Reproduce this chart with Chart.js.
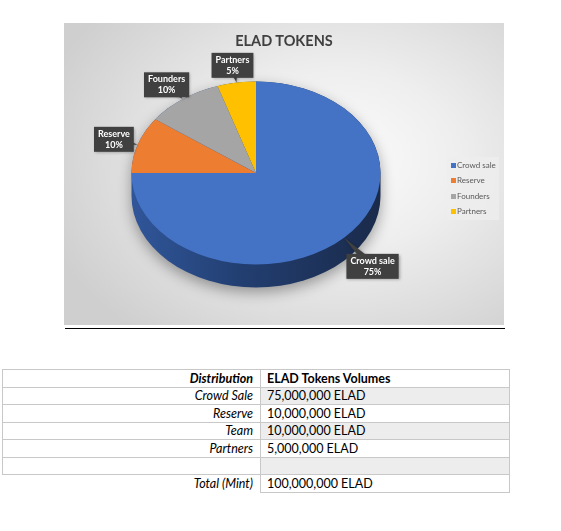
<!DOCTYPE html>
<html>
<head>
<meta charset="utf-8">
<script src="https://cdn.jsdelivr.net/npm/chart.js@4/dist/chart.umd.min.js"></script>
<style>
  body { margin: 0; background: #fff; font-family: Lato, "Open Sans", sans-serif; }
  #chartBox {
    position: absolute; left: 64px; top: 23px; width: 440px; height: 302px;
    background: radial-gradient(ellipse 70% 75% at 62% 45%, #fcfcfc 0%, #eeeeee 40%, #cfcfcf 100%);
  }
  #chartBox canvas { position: absolute; left: 0; top: 0; }
  #title {
    position: absolute; left: 0; top: 9px; width: 440px; line-height: 18px;
    text-align: center; font: bold 14.5px Lato; color: #404040;
  }
  #legend {
    position: absolute; left: 383px; top: 134px; width: 52px; height: 63px;
    background: rgba(238, 238, 238, 0.8); box-sizing: border-box; padding: 0.5px 0 0 3.5px;
  }
  #legend div { font: 8px Lato; color: #595959; line-height: 15.6px; white-space: nowrap; }
  #legend span { display: inline-block; width: 5px; height: 5px; margin-right: 1.5px; }
  #rule { position: absolute; left: 65px; top: 327.5px; width: 440px; height: 1.5px; background: #000; }
  table {
    position: absolute; left: 2px; top: 369px; width: 507px;
    border-collapse: collapse; table-layout: fixed; font: 12.5px Lato; color: #000;
  }
  td { height: 16.5px; padding: 0; border: 1px solid #c8c8c8; white-space: nowrap; }
  td.name { text-align: right; font-style: italic; padding-right: 7px; }
  td.vol { padding-left: 6px; }
  tr.shade td.vol { background: #ededed; }
  tr.head td { font-weight: bold; }
  tr.total td.name { border-left: none; border-bottom: none; }
</style>
</head>
<body>
<div id="chartBox">
  <canvas id="tokens" width="440" height="302"></canvas>
  <div id="title">ELAD TOKENS</div>
  <div id="legend"></div>
</div>
<div id="rule"></div>
<table id="dist"></table>

<script>
const categories = ["Crowd sale", "Reserve", "Founders", "Partners"];
const shares = [75, 10, 10, 5];
const sliceColors = ["#4472c4", "#ed7d31", "#a5a5a5", "#ffc000"];

const tableNames = ["Crowd Sale", "Reserve", "Team", "Partners"];
const tableVolumes = [75000000, 10000000, 10000000, 5000000];
const totalMint = 100000000;

// squash the pie into a tilted disc and draw the front rim under it
const tilt = {
  id: "tilt",
  beforeDatasetsDraw(chart, args, opts) {
    const ctx = chart.ctx;
    const arc = chart.getDatasetMeta(0).data[0];
    const { x, y, outerRadius: r } = arc.getProps(["x", "y", "outerRadius"], true);
    const ry = r * opts.ratio;

    ctx.save();
    const side = ctx.createLinearGradient(x - r, 0, x + r, 0);
    side.addColorStop(0, "#30569a");
    side.addColorStop(0.45, "#223e70");
    side.addColorStop(1, "#1a2a4a");
    ctx.fillStyle = side;
    ctx.shadowColor = "rgba(0,0,0,0.35)";
    ctx.shadowBlur = 14;
    ctx.shadowOffsetY = 5;
    ctx.beginPath();
    ctx.moveTo(x - r, y);
    ctx.ellipse(x, y, r, ry, 0, Math.PI, 2 * Math.PI);
    ctx.lineTo(x + r, y + opts.depth);
    ctx.ellipse(x, y + opts.depth, r, ry, 0, 0, Math.PI);
    ctx.closePath();
    ctx.fill();
    ctx.restore();

    ctx.save();
    ctx.translate(x, y);
    ctx.scale(1, opts.ratio);
    ctx.translate(-x, -y);
  },
  afterDatasetsDraw(chart) {
    chart.ctx.restore();
  },
};

// dark callout boxes with category and percent
const callouts = {
  id: "callouts",
  afterDraw(chart) {
    const ctx = chart.ctx;
    const { ratio, depth } = chart.options.plugins.tilt;
    const values = chart.data.datasets[0].data;
    const total = values.reduce((a, b) => a + b, 0);
    ctx.save();
    ctx.font = "bold 9px Lato";
    ctx.textAlign = "center";
    ctx.textBaseline = "middle";
    chart.getDatasetMeta(0).data.forEach((arc, i) => {
      const p = arc.getProps(["x", "y", "startAngle", "endAngle", "outerRadius"], true);
      const a = (p.startAngle + p.endAngle) / 2;
      const cos = Math.cos(a);
      const sin = Math.sin(a);
      const tipX = p.x + p.outerRadius * cos;
      const tipY = p.y + p.outerRadius * ratio * sin;
      const lines = [chart.data.labels[i], Math.round((values[i] / total) * 100) + "%"];
      const w = Math.max(...lines.map((t) => ctx.measureText(t).width)) + 8;
      const h = 25;
      const gap = 5;
      const bx = tipX + cos * (w / 2 + gap) + (sin > 0 ? cos * depth * 0.4 : 0);
      const by = tipY + sin * (h / 2 + gap) + (sin > 0 ? sin * depth : 0);

      const dx = tipX - bx;
      const dy = tipY - by;
      const len = Math.hypot(dx, dy);
      const nx = (-dy / len) * 5;
      const ny = (dx / len) * 5;
      ctx.fillStyle = "#404040";
      ctx.shadowColor = "rgba(0,0,0,0.3)";
      ctx.shadowBlur = 3;
      ctx.shadowOffsetX = 1;
      ctx.shadowOffsetY = 1;
      ctx.beginPath();
      ctx.moveTo(tipX, tipY);
      ctx.lineTo(bx + nx, by + ny);
      ctx.lineTo(bx - nx, by - ny);
      ctx.closePath();
      ctx.fill();
      ctx.fillRect(bx - w / 2, by - h / 2, w, h);

      ctx.shadowColor = "transparent";
      ctx.fillStyle = "#ffffff";
      ctx.fillText(lines[0], bx, by - 5.5);
      ctx.fillText(lines[1], bx, by + 5.5);
    });
    ctx.restore();
  },
};

new Chart(document.getElementById("tokens"), {
  type: "pie",
  data: {
    labels: categories,
    datasets: [
      {
        data: shares,
        backgroundColor: sliceColors,
        borderWidth: 0,
      },
    ],
  },
  options: {
    responsive: false,
    animation: false,
    layout: {
      padding: { left: 67.5, right: 123.5, top: 25.5, bottom: 27.5 },
    },
    plugins: {
      legend: { display: false },
      tooltip: { enabled: false },
      tilt: { ratio: 0.735, depth: 23 },
    },
  },
  plugins: [tilt, callouts],
});

// legend
const legend = document.getElementById("legend");
categories.forEach((name, i) => {
  const item = document.createElement("div");
  item.innerHTML = '<span style="background:' + sliceColors[i] + '"></span>' + name;
  legend.appendChild(item);
});

// distribution table
const fmt = (n) => n.toLocaleString("en-US") + " ELAD";
const rows = [["Distribution", "ELAD Tokens Volumes", "head"]];
tableNames.forEach((name, i) => rows.push([name, fmt(tableVolumes[i]), i % 2 === 0 ? "shade" : ""]));
rows.push(["", "", "shade"]);
rows.push(["Total (Mint)", fmt(totalMint), "total"]);

const table = document.getElementById("dist");
table.innerHTML =
  '<colgroup><col style="width:258px"><col style="width:249px"></colgroup>' +
  rows
    .map((r) => '<tr class="' + r[2] + '"><td class="name">' + r[0] + '</td><td class="vol">' + r[1] + "</td></tr>")
    .join("");
</script>
</body>
</html>
